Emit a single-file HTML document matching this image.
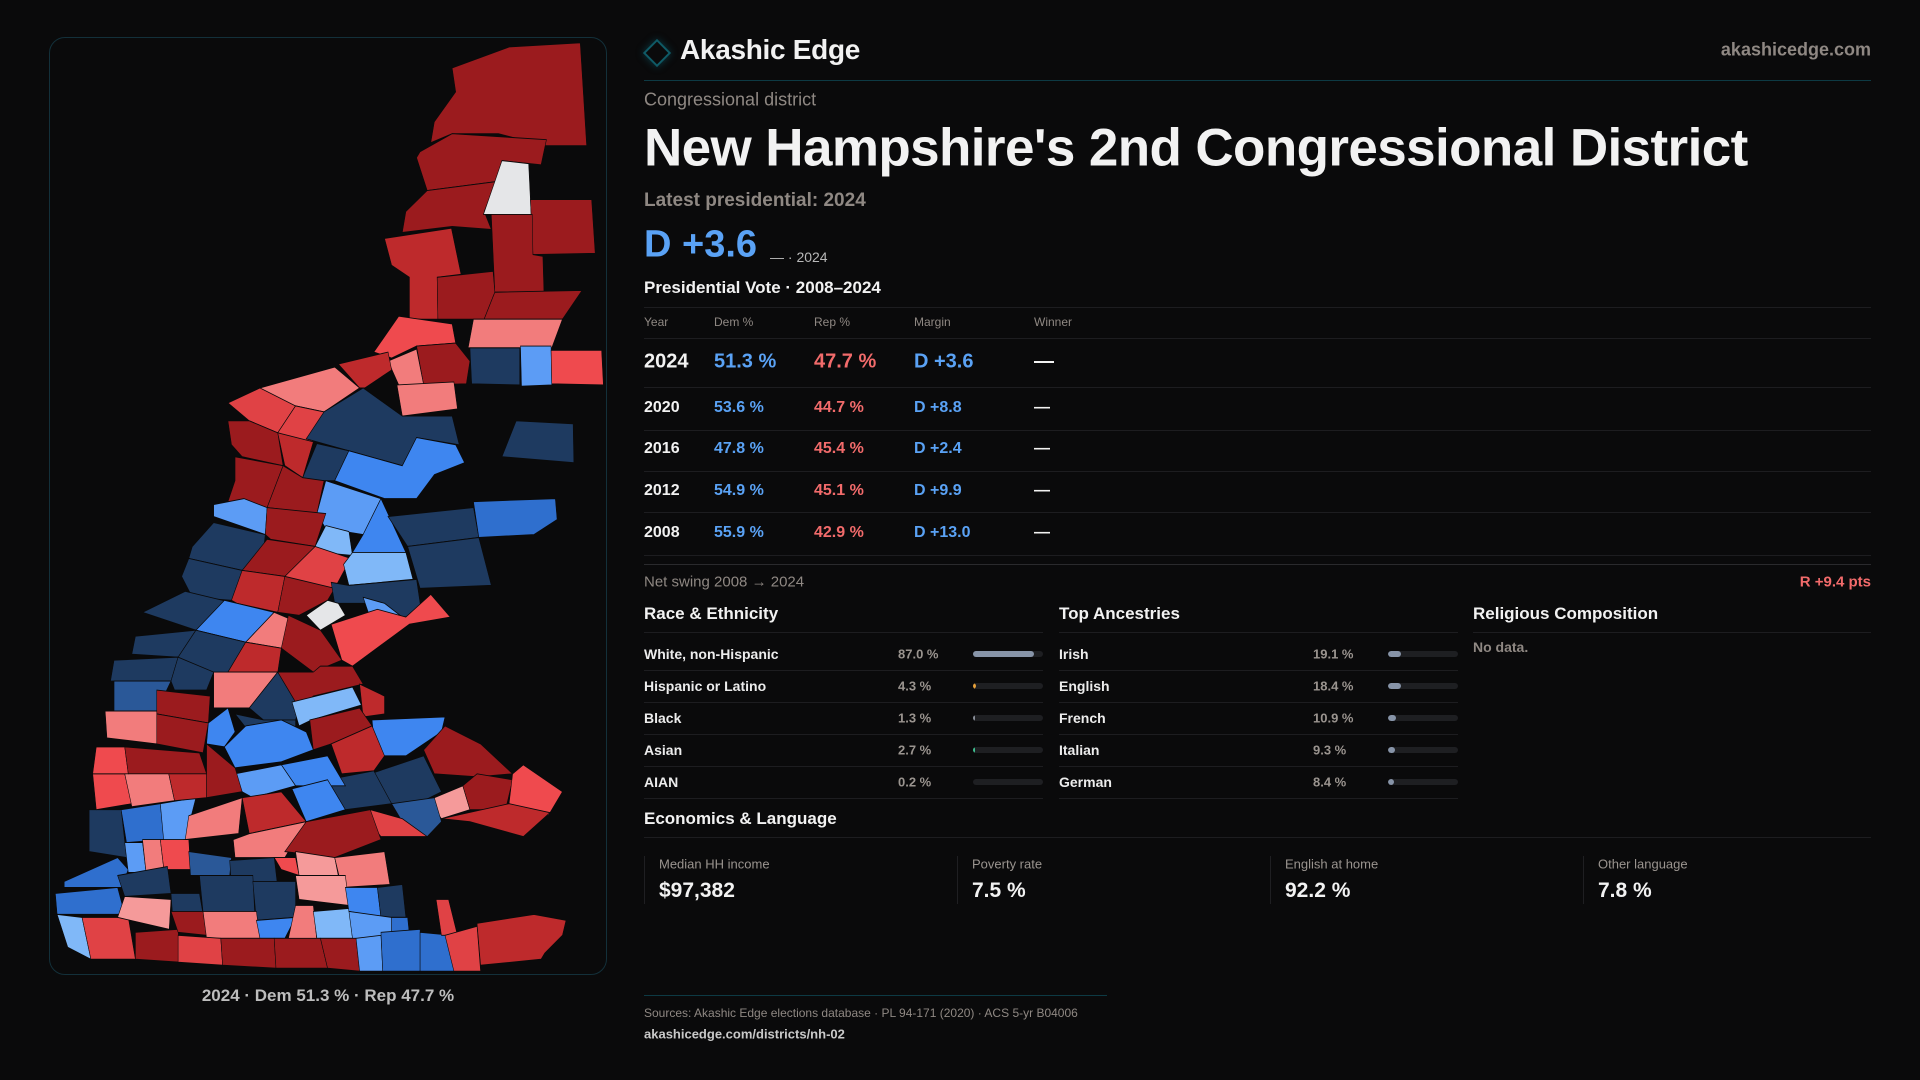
<!DOCTYPE html>
<html><head><meta charset="utf-8"><style>
*{margin:0;padding:0;box-sizing:border-box}
body{width:1920px;height:1080px;background:#0a0a0b;font-family:"Liberation Sans",sans-serif;color:#f2f2f2;position:relative;overflow:hidden}
.a{position:absolute;white-space:nowrap}
.gray{color:#8f8883}
.blue{color:#5aa2f5}
.red{color:#f26b6b}
.hl{position:absolute;height:1px;background:#1d1d20}
.vc{transform:translateY(-50%)}
</style></head><body>
<div class="a" style="left:49px;top:37px;width:558px;height:938px;border:1px solid #13303a;border-radius:16px;overflow:hidden">
<svg id="map" width="558" height="938" viewBox="0 0 1568 1568" preserveAspectRatio="none"></svg>
</div>
<div class="a vc" style="left:328px;top:996px;transform:translate(-50%,-50%);font-size:17px;font-weight:bold;color:#bdbdbd">2024 · Dem 51.3 % · Rep 47.7 %</div>

<div class="a" style="left:647px;top:43px;width:20px;height:20px;border:2px solid #0f5a66;transform:rotate(45deg);box-shadow:0 0 8px #0b3a44"></div>
<div class="a vc" style="left:680px;top:50px;font-size:28px;font-weight:bold;letter-spacing:-0.3px">Akashic Edge</div>
<div class="a vc gray" style="right:49px;top:50px;font-size:18px;font-weight:bold">akashicedge.com</div>
<div class="hl" style="left:644px;top:80px;width:1227px;background:#0d3a44"></div>

<div class="a vc gray" style="left:644px;top:100px;font-size:18px">Congressional district</div>
<div class="a vc" style="left:644px;top:148px;font-size:53px;font-weight:bold;letter-spacing:-0.6px">New Hampshire's 2nd Congressional District</div>
<div class="a vc gray" style="left:644px;top:201px;font-size:19px;font-weight:bold">Latest presidential: 2024</div>
<div class="a vc blue" style="left:644px;top:245px;font-size:38px;font-weight:bold">D +3.6</div>
<div class="a vc" style="left:770px;top:257px;font-size:14px;color:#b8b8b8">— · 2024</div>
<div class="a vc" style="left:644px;top:288px;font-size:17px;font-weight:bold">Presidential Vote · 2008–2024</div>
<div class="hl" style="left:644px;top:307px;width:1227px"></div>
<div id="tbl"></div>
<div class="hl" style="left:644px;top:564px;width:1227px;background:#2a2a2d"></div>
<div class="a vc gray" style="left:644px;top:582px;font-size:15px">Net swing 2008 → 2024</div>
<div class="a vc red" style="right:49px;top:582px;font-size:15px;font-weight:bold">R +9.4 pts</div>

<div class="a vc" style="left:644px;top:614px;font-size:17px;font-weight:bold">Race &amp; Ethnicity</div>
<div class="a vc" style="left:1059px;top:614px;font-size:17px;font-weight:bold">Top Ancestries</div>
<div class="a vc" style="left:1473px;top:614px;font-size:17px;font-weight:bold">Religious Composition</div>
<div class="hl" style="left:644px;top:632px;width:399px"></div>
<div class="hl" style="left:1059px;top:632px;width:399px"></div>
<div class="hl" style="left:1473px;top:632px;width:398px"></div>
<div class="a vc gray" style="left:1473px;top:647px;font-size:14px;font-weight:bold">No data.</div>
<div id="demo"></div>

<div class="a vc" style="left:644px;top:819px;font-size:17px;font-weight:bold">Economics &amp; Language</div>
<div class="hl" style="left:644px;top:837px;width:1227px"></div>
<div id="stats"></div>

<div class="hl" style="left:644px;top:995px;width:463px;background:#0d3a44"></div>
<div class="a vc gray" style="left:644px;top:1013px;font-size:12px">Sources: Akashic Edge elections database · PL 94-171 (2020) · ACS 5-yr B04006</div>
<div class="a vc" style="left:644px;top:1034px;font-size:13px;font-weight:bold;color:#c9c9c9">akashicedge.com/districts/nh-02</div>

<script>
const years=["2024","2020","2016","2012","2008"];
const demPct=[51.3,53.6,47.8,54.9,55.9];
const repPct=[47.7,44.7,45.4,45.1,42.9];
const marginVals=[3.6,8.8,2.4,9.9,13.0];
const raceLabels=["White, non-Hispanic","Hispanic or Latino","Black","Asian","AIAN"];
const raceValues=[87.0,4.3,1.3,2.7,0.2];
const raceColors=["#8794a8","#e8a13a","#8a8f99","#3fbf8f","#8a8f99"];
const ancLabels=["Irish","English","French","Italian","German"];
const ancValues=[19.1,18.4,10.9,9.3,8.4];
const statLabels=["Median HH income","Poverty rate","English at home","Other language"];
const statValues=["$97,382","7.5 %","92.2 %","7.8 %"];

function mk(parent,style,text){const d=document.createElement('div');d.className='a';d.style.cssText=style;if(text!==undefined)d.textContent=text;parent.appendChild(d);return d;}
const tbl=document.getElementById('tbl');
const hdr=["Year","Dem %","Rep %","Margin","Winner"];
const cx=[644,714,814,914,1034];
hdr.forEach((h,i)=>{const e=mk(tbl,`left:${cx[i]}px;top:322px;transform:translateY(-50%);font-size:12px;color:#8f8883`,h);

});
mk(tbl,'left:644px;top:338px;width:1227px;height:1px;background:#1d1d20').className='hl';
const rowY=[362,408,449,491,533];
const lineY=[387,430,471,512,555];
years.forEach((y,i)=>{
  const fs=i===0?20:16;
  const m=marginVals[i];
  const margin=(m>=0?"D +":"R +")+Math.abs(m).toFixed(1);
  const vals=[y,demPct[i].toFixed(1)+" %",repPct[i].toFixed(1)+" %",margin,"—"];
  const cols=["#f2f2f2","#5aa2f5","#f26b6b",m>=0?"#5aa2f5":"#f26b6b","#f2f2f2"];
  vals.forEach((v,j)=>{const e=mk(tbl,`left:${cx[j]}px;top:${rowY[i]}px;transform:translateY(-50%);font-size:${fs}px;font-weight:bold;color:${cols[j]}`,v);
  
  });
  const l=mk(tbl,`left:644px;top:${lineY[i]}px;width:1227px;height:1px;background:#1d1d20`);l.className='hl';
  
  
});
const demo=document.getElementById('demo');
function barList(labels,values,colors,x0,xv,xb,prefix){
  labels.forEach((lab,i)=>{
    const y=654+i*32;
    const a=mk(demo,`left:${x0}px;top:${y}px;transform:translateY(-50%);font-size:14px;font-weight:bold;color:#ececec`,lab);
    
    
    const b=mk(demo,`left:${xv}px;top:${y}px;transform:translateY(-50%);font-size:13px;font-weight:bold;color:#9a948f`,values[i].toFixed(1)+" %");
    
    
    const t=mk(demo,`left:${xb}px;top:${y-3}px;width:70px;height:6px;border-radius:3px;background:#1e1f22;overflow:hidden`);
    
    
    const w=Math.max(70*values[i]/100,prefix==='race'?0:6);
    const f=document.createElement('div');
    f.style.cssText=`position:absolute;left:0;top:0;height:6px;width:${w}px;border-radius:${prefix==='race'?'0 3px 3px 0':'3px'};background:${colors?colors[i]:'#8794a8'}`;
    if(prefix==='race'&&w<2)f.style.width=(values[i]>0.5?2:0)+'px';
    
    
    t.appendChild(f);
    const l=mk(demo,`left:${x0}px;top:${y+16}px;width:399px;height:1px;background:#1d1d20`);
    
    
  });
}
barList(raceLabels,raceValues,raceColors,644,898,973,'race');
barList(ancLabels,ancValues,null,1059,1313,1388,'ancestry');
const stats=document.getElementById('stats');
statLabels.forEach((s,i)=>{
  const x=644+i*313;
  const c=mk(stats,`left:${x}px;top:856px;width:1px;height:48px;background:#1f1f22`);
  
  
  const a=mk(stats,`left:${x+15}px;top:864px;transform:translateY(-50%);font-size:13px;color:#9a948f`,s);
  
  
  const b=mk(stats,`left:${x+15}px;top:891px;transform:translateY(-50%);font-size:21px;font-weight:bold`,statValues[i]);
  
  
});

const C={dr:"#9b1b1e",mr:"#be2a2c",r:"#e04245",rr:"#ef4a4e",pk:"#f27c7c",lp:"#f59a9a",nv:"#1e3a60",nb:"#2a5898",bl:"#2f6fce",bb:"#3e86f0",lb:"#5c9cf5",xb:"#80b8f8",wh:"#e5e6e8"};
const P=[
["dr","1130,50 1290,15 1490,8 1508,180 1390,180 1260,160 1130,160 1070,175 1080,140 1140,90"],
["dr","1040,190 1130,160 1395,170 1380,212 1270,205 1255,240 1060,255 1030,200"],
["dr","1060,255 1255,240 1220,290 1240,320 1130,315 990,325 1000,290"],
["wh","1270,205 1345,210 1352,295 1218,295 1250,240"],
["dr","1350,270 1522,270 1532,360 1357,362"],
["dr","1240,295 1355,295 1357,362 1385,365 1388,425 1250,425 1245,360"],
["mr","940,335 1128,318 1155,395 1088,400 1090,470 1010,470 1010,400 960,380"],
["dr","1088,400 1245,390 1250,425 1220,470 1090,470"],
["dr","1250,425 1495,422 1440,470 1220,470"],
["pk","1190,470 1440,470 1410,518 1175,518"],
["nv","1180,518 1320,518 1320,580 1185,578"],
["lb","1322,515 1408,515 1410,580 1325,582"],
["rr","1408,522 1550,522 1555,580 1410,578"],
["rr","980,465 1130,478 1140,510 1030,515 960,535 910,525"],
["dr","1030,515 1140,510 1180,540 1170,578 1050,580"],
["pk","950,540 1030,520 1050,580 980,580"],
["pk","975,580 1135,575 1145,620 990,632"],
["mr","810,545 950,525 960,555 885,585 870,585"],
["pk","590,585 800,550 870,585 770,625 690,615 620,600"],
["r","500,610 590,585 690,615 640,660 560,640"],
["r","640,660 690,615 770,625 740,675 660,665"],
["nv","720,670 770,625 880,585 990,632 1130,632 1150,680 1030,668 990,715 840,690"],
["dr","500,640 560,640 640,660 655,715 540,700 510,680"],
["mr","640,660 740,675 710,735 660,715"],
["nv","710,735 750,678 840,690 800,740 745,740"],
["bb","800,740 840,690 990,715 1030,668 1140,680 1165,710 1080,730 1030,770 940,770"],
["dr","520,700 655,715 610,785 500,775 520,740"],
["dr","610,785 655,715 710,735 770,740 750,795"],
["lb","750,795 775,740 930,770 880,830 775,820"],
["bb","880,830 930,770 1000,860 850,860"],
["lb","460,780 545,770 610,785 605,830 460,800"],
["dr","605,830 610,785 775,795 745,850 620,838"],
["xb","745,850 775,815 840,825 850,865 760,860"],
["nv","950,800 1190,785 1205,835 1005,850"],
["bl","1190,775 1420,770 1425,805 1360,830 1205,835"],
["nv","1005,850 1205,835 1240,915 1040,920"],
["nv","1270,700 1310,640 1470,645 1472,710"],
["nv","400,850 460,810 605,830 595,880 540,890 390,870"],
["dr","540,890 610,838 745,850 770,860 660,900"],
["r","660,900 745,850 845,870 800,920 700,920"],
["xb","850,860 1000,860 1020,905 840,915 825,880"],
["nv","370,900 390,870 540,890 510,940 400,935"],
["mr","510,940 540,890 660,900 640,960 525,945"],
["dr","640,960 660,900 800,920 780,940 700,965"],
["nv","790,910 840,915 1030,905 1045,965 990,968 890,945 800,945"],
["lb","880,935 940,945 990,968 900,970"],
["rr","790,980 920,955 1000,968 1070,930 1125,968 1010,980 850,1050 820,1040"],
["wh","720,965 780,940 810,945 830,965 760,990"],
["nv","260,960 380,925 520,945 410,990"],
["bb","410,990 490,940 630,960 550,1010"],
["pk","550,1010 630,960 690,975 650,1020"],
["dr","650,1020 670,965 760,990 820,1040 740,1060"],
["nv","240,1000 410,990 360,1035 230,1030"],
["nv","360,1035 410,990 550,1010 500,1060 455,1065"],
["mr","500,1060 550,1010 650,1020 640,1060"],
["nv","180,1040 360,1035 340,1075 170,1075"],
["nv","340,1075 360,1035 460,1060 440,1090 350,1090"],
["pk","460,1060 640,1060 560,1120 460,1120"],
["nv","560,1120 640,1060 700,1120 690,1140 600,1140"],
["dr","640,1060 740,1060 760,1050 850,1050 880,1080 740,1100 700,1120"],
["xb","680,1110 850,1085 875,1115 735,1140 700,1150"],
["mr","870,1080 940,1100 940,1130 880,1135"],
["nb","180,1075 340,1075 300,1125 180,1125"],
["dr","300,1090 450,1100 445,1145 300,1130"],
["pk","155,1125 300,1125 300,1180 160,1170"],
["dr","300,1130 445,1145 430,1195 300,1180"],
["bb","445,1145 500,1120 520,1160 490,1185 440,1180"],
["nv","520,1130 600,1140 690,1140 690,1160 560,1160"],
["bb","490,1185 550,1150 650,1140 720,1160 740,1190 650,1210 520,1220"],
["dr","730,1140 870,1120 905,1150 790,1180 740,1190"],
["bb","905,1140 1110,1135 1100,1160 1000,1200 940,1200 910,1170"],
["mr","790,1180 905,1150 940,1200 910,1225 820,1230"],
["dr","1050,1190 1110,1150 1210,1180 1300,1230 1200,1235 1080,1230"],
["nv","900,1230 1050,1200 1100,1260 1000,1290 960,1280"],
["nv","780,1240 910,1225 960,1280 830,1290"],
["bb","650,1215 780,1200 830,1250 690,1250"],
["lb","520,1230 650,1215 690,1250 570,1270 540,1260"],
["bb","680,1255 780,1240 830,1290 720,1310"],
["lp","1080,1270 1160,1250 1180,1290 1100,1305 1075,1285"],
["dr","1160,1250 1200,1230 1300,1240 1280,1290 1180,1290"],
["rr","1300,1230 1330,1215 1440,1260 1400,1300 1290,1280"],
["mr","1100,1305 1290,1280 1405,1295 1330,1335 1180,1310"],
["nb","960,1280 1080,1270 1100,1310 1060,1335 990,1310"],
["r","900,1290 990,1305 1060,1335 930,1335 910,1320"],
["nv","110,1290 200,1290 215,1370 110,1360"],
["bl","200,1290 310,1280 320,1340 215,1345"],
["lb","310,1280 410,1270 380,1340 320,1345"],
["rr","120,1230 210,1230 230,1280 130,1290"],
["pk","210,1230 330,1220 350,1275 230,1285"],
["mr","330,1220 440,1230 440,1270 350,1275"],
["rr","130,1185 210,1185 220,1230 120,1230"],
["dr","210,1185 420,1195 440,1230 220,1230"],
["dr","440,1180 520,1220 540,1260 440,1270"],
["pk","390,1300 540,1270 530,1330 380,1340"],
["mr","540,1270 650,1260 720,1310 560,1330"],
["pk","560,1330 720,1310 660,1370 520,1370 515,1340"],
["dr","720,1310 900,1290 930,1340 800,1370 660,1360"],
["bl","40,1410 190,1370 220,1390 200,1420 40,1420"],
["lb","210,1345 260,1345 270,1395 220,1395"],
["pk","260,1340 310,1340 320,1390 270,1395"],
["rr","310,1340 390,1340 395,1390 320,1390"],
["nb","390,1360 510,1370 505,1400 395,1400"],
["nv","505,1375 630,1370 640,1420 510,1420"],
["rr","630,1370 690,1370 700,1400 650,1390"],
["lp","690,1360 800,1370 810,1400 700,1400"],
["pk","800,1370 940,1360 955,1415 820,1420"],
["bl","15,1430 190,1420 210,1465 20,1465"],
["nv","190,1400 330,1385 340,1430 210,1435"],
["xb","20,1465 90,1470 115,1540 50,1520"],
["r","90,1470 220,1470 240,1540 115,1540"],
["lp","210,1435 340,1440 335,1490 190,1470"],
["nv","340,1430 420,1430 430,1465 345,1470"],
["nv","420,1400 570,1400 575,1460 430,1460"],
["nv","570,1410 690,1410 690,1470 580,1475"],
["lp","690,1400 830,1400 840,1450 700,1440"],
["dr","240,1495 360,1490 365,1545 240,1540"],
["dr","340,1460 430,1460 440,1500 360,1495"],
["pk","430,1460 580,1460 590,1505 440,1505"],
["bb","580,1475 690,1470 660,1505 590,1505"],
["pk","690,1450 740,1450 750,1510 670,1505"],
["xb","740,1460 840,1455 850,1505 750,1505"],
["bb","830,1420 920,1420 930,1470 840,1460"],
["nv","920,1420 990,1415 1000,1470 930,1470"],
["lb","840,1460 960,1470 960,1510 850,1505"],
["bl","960,1470 1005,1470 1010,1500 960,1500"],
["r","360,1500 480,1505 485,1550 360,1545"],
["dr","480,1505 630,1505 635,1555 485,1550"],
["dr","630,1505 760,1505 780,1555 635,1555"],
["dr","760,1505 860,1505 870,1560 780,1555"],
["lb","860,1505 930,1500 935,1560 870,1560"],
["bl","930,1495 1040,1490 1040,1560 935,1560"],
["bl","1040,1495 1130,1500 1135,1560 1040,1560"],
["r","1085,1440 1120,1440 1145,1500 1100,1500"],
["r","1110,1500 1200,1485 1210,1560 1135,1560"],
["mr","1200,1480 1360,1465 1450,1475 1440,1500 1390,1530 1380,1540 1210,1550"]
];
const svg=document.getElementById('map');
P.forEach(p=>{
  const e=document.createElementNS('http://www.w3.org/2000/svg','polygon');
  e.setAttribute('points',p[1]);
  e.setAttribute('fill',C[p[0]]);
  e.setAttribute('stroke','#0a0a0b');
  e.setAttribute('stroke-width','1.5');
  
  
  svg.appendChild(e);
});
</script>
</body></html>
